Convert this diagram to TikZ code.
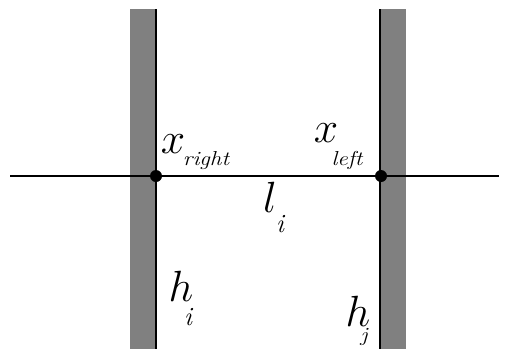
\documentclass[tikz,border=0pt]{standalone}
\usetikzlibrary{positioning}
\definecolor{wallgray}{RGB}{128,128,128}

\begin{document}
\begin{tikzpicture}[
  x=0.02cm, y=-0.02cm,
  wall/.style={fill=wallgray, draw=none},
  edge/.style={black, line width=1.1pt},
  axis/.style={black, line width=1.1pt},
  dot/.style={circle, fill=black, inner sep=0pt, minimum size=0.24cm},
  var/.style={font=\fontsize{24}{26}\selectfont, inner sep=0pt},
  sub/.style={font=\fontsize{11.5}{13}\selectfont\itshape, inner sep=0pt,
              transform shape, xscale=1.15},
  idx/.style={font=\fontsize{15}{17}\selectfont\itshape, inner sep=0pt}
]
\useasboundingbox (0,0) rectangle (509,349);

%% Walls
\fill[wall] (130,9) rectangle (156,349);
\fill[wall] (380,9) rectangle (406,349);
\draw[edge] (156,9) -- (156,349);
\draw[edge] (380,9) -- (380,349);

%% Contact points and axis
\node[dot] (pr) at (156,176) {};
\node[dot] (pl) at (381,176) {};
\coordinate (w) at (10,176);
\coordinate (e) at (499,176);
\draw[axis] (w) -- (pr) -- (pl) -- (e);

%% Labels
\node[var] (xr) at (173,144) {$x$};
\node[sub] (xrs) at (206,161) {right};
\node[var] (xl) at (326,133) {$x$};
\node[sub] (xls) at (347,160) {left};
\node[var] (l) at (270,197) {$l$};
\node[idx] (ls) at (280,224) {i};
\node[var] (hi) at (181,286) {$h$};
\node[idx] (his) at (188,317) {i};
\node[var] (hj) at (358,311) {$h$};
\node[sub] (hjs) at (364,337) {j};

\end{tikzpicture}
\end{document}
